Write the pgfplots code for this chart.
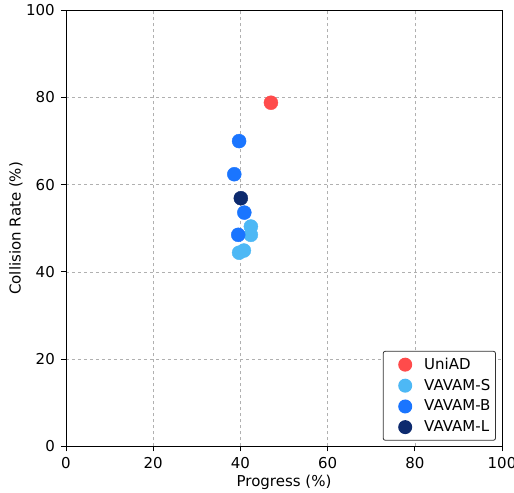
\documentclass[border=0pt]{standalone}
\usepackage{pgfplots}
\pgfplotsset{compat=1.18}
\usepackage{fontspec}
\setmainfont{DejaVu Sans}
\definecolor{cuni}{HTML}{FF4B4B}
\definecolor{cs}{HTML}{4DB8F5}
\definecolor{cb}{HTML}{1A75FF}
\definecolor{cl}{HTML}{0D2A6E}
\definecolor{gridc}{HTML}{B0B0B0}
\pgfplotsset{
  dot/.style={only marks, mark=*, mark size=7pt, color=#1, mark options={fill=#1, draw=#1},
    legend image code/.code={\fill[#1, draw=none] (19pt,0pt) circle[radius=7pt]; \path[draw=none, fill=none] (0pt,0pt) -- (36pt,0pt);}},
}
\begin{document}
\fontsize{15}{18}\selectfont
\begin{tikzpicture}
\begin{axis}[
  at={(0,0)}, anchor=south west,
  scale only axis,
  width=436pt, height=436pt,
  xmin=0, xmax=100, ymin=0, ymax=100,
  xtick={0,20,40,60,80,100}, ytick={0,20,40,60,80,100},
  /pgf/number format/assume math mode=true,
  tick label style={font=\fontsize{15}{18}\selectfont},
  xticklabel style={yshift=-1pt},
  yticklabel style={xshift=-1pt},
  label style={font=\fontsize{15}{18}\selectfont},
  xlabel={Progress (\%)}, ylabel={Collision Rate (\%)},
  every axis x label/.style={at={(axis description cs:0.5,-0.082)}, anchor=center},
  every axis y label/.style={at={(axis description cs:-0.115,0.5)}, anchor=center, rotate=90},
  tick align=outside, tick pos=left,
  major tick length=5pt,
  every tick/.style={black, line width=0.8pt},
  axis line style={line width=0.9pt},
  grid=major,
  major grid style={gridc, dashed, line width=0.6pt},
  legend cell align=left,
  legend style={at={(0.986,0.013)}, anchor=south east, draw=black!80, line width=0.8pt, rounded corners=2pt, font=\fontsize{15}{18}\selectfont, row sep=3.5pt, inner xsep=3pt, inner ysep=4.5pt},
]
\addplot[dot=cuni] coordinates {(47.0,78.8)};
\addlegendentry{UniAD}
\addplot[dot=cs] coordinates {(42.4,50.4) (42.4,48.5) (40.8,44.9) (39.7,44.4)};
\addlegendentry{VAVAM-S}
\addplot[dot=cb] coordinates {(39.7,70.0) (38.6,62.4) (40.9,53.6) (39.5,48.5)};
\addlegendentry{VAVAM-B}
\addplot[dot=cl] coordinates {(40.1,56.9)};
\addlegendentry{VAVAM-L}
\end{axis}
\pgfresetboundingbox
\path[use as bounding box] (-66pt,-46.5pt) rectangle (448pt,446.3pt);
\end{tikzpicture}
\end{document}
